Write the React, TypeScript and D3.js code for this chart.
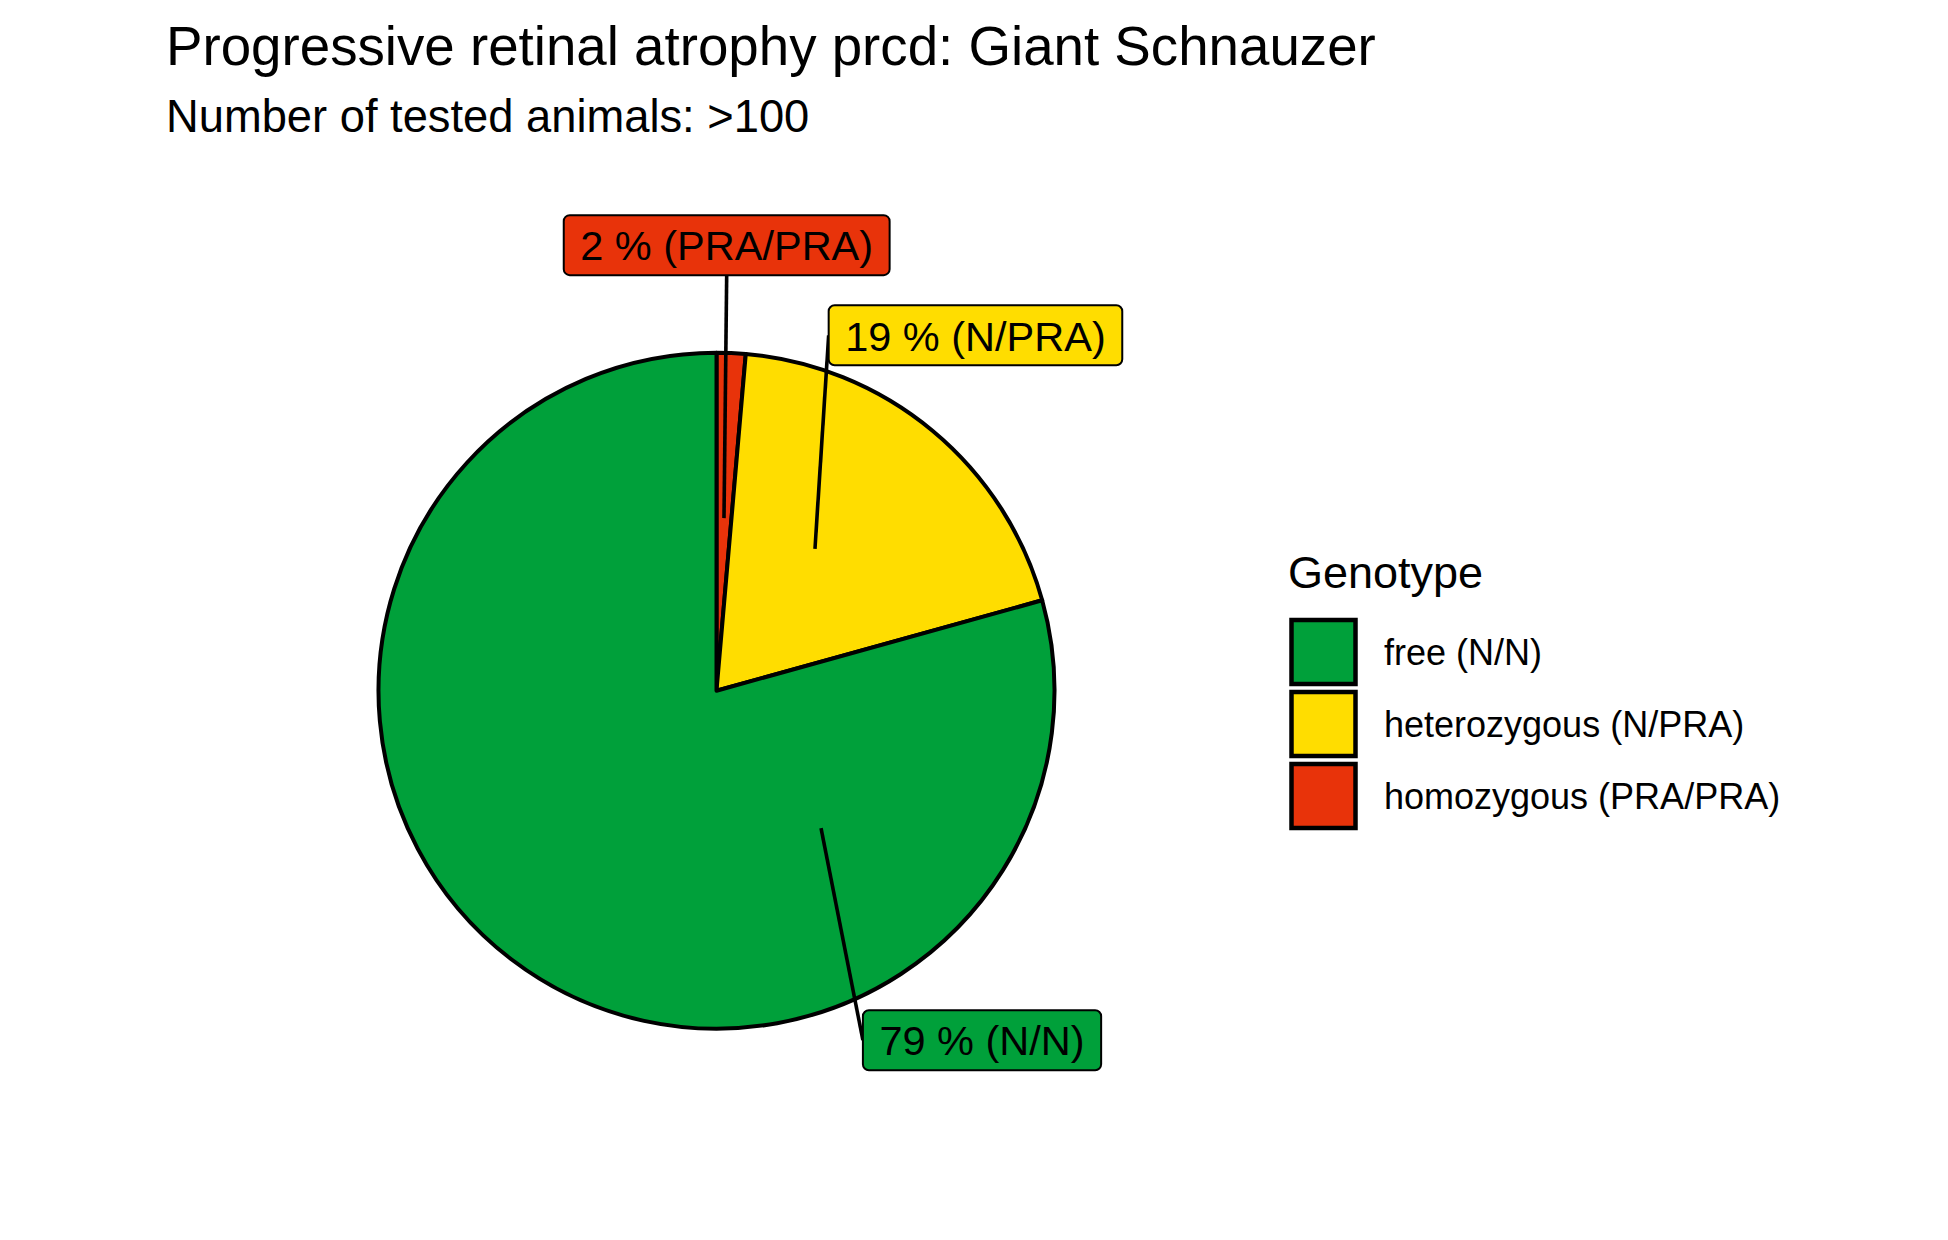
import * as d3 from 'd3'
import React, { useEffect, useRef } from 'react'

const genotypes = ['free (N/N)', 'heterozygous (N/PRA)', 'homozygous (PRA/PRA)']
const codes = ['N/N', 'N/PRA', 'PRA/PRA']
const shares = [79.31, 19.31, 1.38]
const shownPct = [79, 19, 2]
const fills = ['#00A03A', '#FFDD00', '#E8330A']

const title = 'Progressive retinal atrophy prcd: Giant Schnauzer'
const subtitle = 'Number of tested animals: >100'
const legendTitle = 'Genotype'

const width = 1948
const height = 1240
const font = '"Liberation Sans", Arial, Helvetica, sans-serif'

const center = { x: 716.5, y: 690.7 }
const radius = 338
// where the repelled labels ended up, relative to their anchor
const labelShift = [
  { dx: 161, dy: 212 },
  { dx: 160.5, dy: -213.5 },
  { dx: 2.7, dy: -273 },
]

const App: React.FC = () => {
  const ref = useRef<SVGSVGElement>(null)

  useEffect(() => {
    const svg = d3.select(ref.current)
    svg.selectAll('*').remove()

    const total = d3.sum(shares)
    const theta = d3.scaleLinear().domain([0, total]).range([0, 2 * Math.PI])
    const rad = d3.scaleLinear().domain([0, 1]).range([0, radius])

    // stacked in reverse: last level sits at the start (12 o'clock)
    const pie = d3
      .pie<number>()
      .sort(null)
      .value((i) => shares[i])
    const arcs = pie([2, 1, 0])
    const arc = d3.arc<d3.PieArcDatum<number>>().innerRadius(0).outerRadius(radius)

    const g = svg.append('g').attr('transform', `translate(${center.x},${center.y})`)
    g.selectAll('path')
      .data(arcs)
      .enter()
      .append('path')
      .attr('d', arc)
      .attr('fill', (d) => fills[d.data])
      .attr('stroke', '#000')
      .attr('stroke-width', 4)
      .attr('stroke-linejoin', 'round')

    // labels
    const fs = 41.5
    const boxH = 60
    const pad = 16.5
    const labels = genotypes.map((_, i) => {
      const a = theta(shares[i] / 2)
      const r = rad(0.511)
      const ax = center.x + r * Math.sin(a)
      const ay = center.y - r * Math.cos(a)
      return { i, ax, ay, cx: ax + labelShift[i].dx, cy: ay + labelShift[i].dy }
    })

    const segLayer = svg.append('g')
    const boxLayer = svg.append('g')

    labels.forEach((l) => {
      const lg = boxLayer.append('g')
      const rect = lg.append('rect')
      const txt = lg
        .append('text')
        .attr('x', l.cx)
        .attr('y', l.cy + 15.2)
        .attr('text-anchor', 'middle')
        .attr('font-family', font)
        .attr('font-size', fs)
        .attr('fill', '#000')
        .text(`${shownPct[l.i]} % (${codes[l.i]})`)
      const tw = (txt.node() as SVGTextElement).getComputedTextLength()
      const bw = tw + 2 * pad
      const x0 = l.cx - bw / 2
      const y0 = l.cy - boxH / 2
      rect
        .attr('x', x0)
        .attr('y', y0)
        .attr('width', bw)
        .attr('height', boxH)
        .attr('rx', 6)
        .attr('fill', fills[l.i])
        .attr('stroke', '#000')
        .attr('stroke-width', 2)

      const mids = [
        [x0, l.cy],
        [x0 + bw, l.cy],
        [l.cx, y0],
        [l.cx, y0 + boxH],
      ]
      const end = d3.least(mids, (p) => Math.hypot(p[0] - l.ax, p[1] - l.ay))!
      segLayer
        .append('line')
        .attr('x1', l.ax)
        .attr('y1', l.ay)
        .attr('x2', end[0])
        .attr('y2', end[1])
        .attr('stroke', '#000')
        .attr('stroke-width', 3.6)
    })

    // titles
    svg
      .append('text')
      .attr('x', 166)
      .attr('y', 64.6)
      .attr('font-family', font)
      .attr('font-size', 54.7)
      .text(title)
    svg
      .append('text')
      .attr('x', 166)
      .attr('y', 131.7)
      .attr('font-family', font)
      .attr('font-size', 45.3)
      .text(subtitle)

    // legend
    const leg = svg.append('g')
    leg
      .append('text')
      .attr('x', 1288)
      .attr('y', 588)
      .attr('font-family', font)
      .attr('font-size', 45)
      .text(legendTitle)
    const keyY = d3
      .scaleBand()
      .domain(genotypes)
      .range([617.75, 617.75 + 72 * genotypes.length])
    genotypes.forEach((name, i) => {
      const y = keyY(name)!
      leg
        .append('rect')
        .attr('x', 1291.5)
        .attr('y', y + 2.25)
        .attr('width', 64)
        .attr('height', 64)
        .attr('fill', fills[i])
        .attr('stroke', '#000')
        .attr('stroke-width', 4.5)
      leg
        .append('text')
        .attr('x', 1384)
        .attr('y', y + 47.3)
        .attr('font-family', font)
        .attr('font-size', 36)
        .text(name)
    })
  }, [])

  return (
    <svg
      ref={ref}
      width={width}
      height={height}
      style={{ position: 'absolute', left: 0, top: 0, background: '#fff' }}
    />
  )
}

export default App
